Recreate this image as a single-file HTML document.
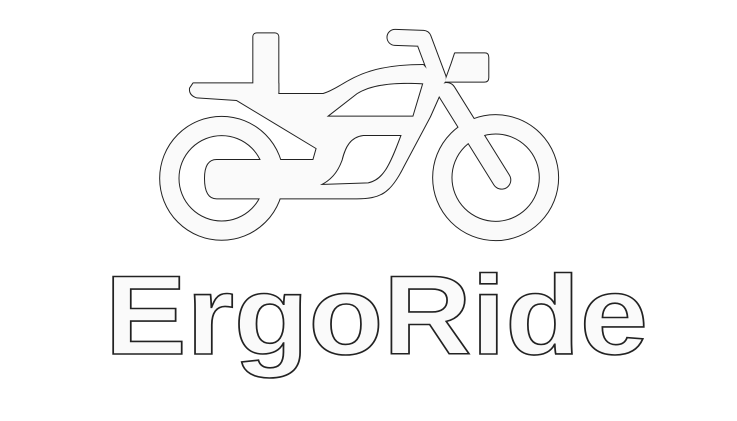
<!DOCTYPE html>
<html><head><meta charset="utf-8"><style>
html,body{margin:0;padding:0;background:#fff;}
svg{display:block}
</style></head><body>
<svg width="737" height="421" viewBox="0 0 737 421">
<rect width="737" height="421" fill="#fff"/>
<g transform="translate(150,20) scale(0.3333)">
  <g fill="#222" stroke="#222">
    <circle cx="215" cy="475" r="157" fill="none" stroke-width="61"/>
    <circle cx="1037" cy="473" r="160" fill="none" stroke-width="61"/>
    <line x1="890" y1="215" x2="1055" y2="480" stroke-width="58" stroke-linecap="round"/>
    <polyline points="735,52 820,55 865,175" fill="none" stroke-width="51" stroke-linecap="round" stroke-linejoin="round"/>
    <path d="M905,130 L915,100 L1005,100 Q1015,100 1015,112 L1015,173 Q1015,185 1003,185 L885,185 Z" stroke-width="6" stroke-linejoin="round"/>
    <rect x="310" y="40" width="75" height="185" rx="10" stroke-width="6"/>
    <path fill-rule="evenodd" stroke-width="6" stroke-linejoin="round" d="M130,190 L385,190 L385,222 L520,222 C590,200 620,135 820,135 L880,200 L840,290 L760,440 C720,520 690,535 620,535 L200,535 Q165,535 165,475 Q165,420 200,420 L490,420 L500,385 L260,240 L140,232 Q118,225 120,205 Z M530,290 L790,290 L820,190 C720,185 660,195 620,220 Z M510,495 L655,490 C700,480 720,440 755,345 L640,345 C600,350 585,380 575,420 C560,460 540,480 510,495 Z"/>
  </g>
  <g fill="#fafafa" stroke="#fafafa">
    <circle cx="215" cy="475" r="157" fill="none" stroke-width="55"/>
    <circle cx="1037" cy="473" r="160" fill="none" stroke-width="55"/>
    <line x1="890" y1="215" x2="1055" y2="480" stroke-width="52" stroke-linecap="round"/>
    <polyline points="735,52 820,55 865,175" fill="none" stroke-width="45" stroke-linecap="round" stroke-linejoin="round"/>
    <path d="M905,130 L915,100 L1005,100 Q1015,100 1015,112 L1015,173 Q1015,185 1003,185 L885,185 Z" stroke-width="0"/>
    <rect x="310" y="40" width="75" height="185" rx="10" stroke-width="0"/>
    <path fill-rule="evenodd" stroke-width="0" d="M130,190 L385,190 L385,222 L520,222 C590,200 620,135 820,135 L880,200 L840,290 L760,440 C720,520 690,535 620,535 L200,535 Q165,535 165,475 Q165,420 200,420 L490,420 L500,385 L260,240 L140,232 Q118,225 120,205 Z M530,290 L790,290 L820,190 C720,185 660,195 620,220 Z M510,495 L655,490 C700,480 720,440 755,345 L640,345 C600,350 585,380 575,420 C560,460 540,480 510,495 Z"/>
  </g>
</g>
<text x="105" y="354" font-family="Liberation Sans, sans-serif" font-weight="bold" font-size="112" textLength="543" lengthAdjust="spacingAndGlyphs" fill="#fafafa" stroke="#222" stroke-width="1.6">ErgoRide</text>
</svg>
</body></html>
